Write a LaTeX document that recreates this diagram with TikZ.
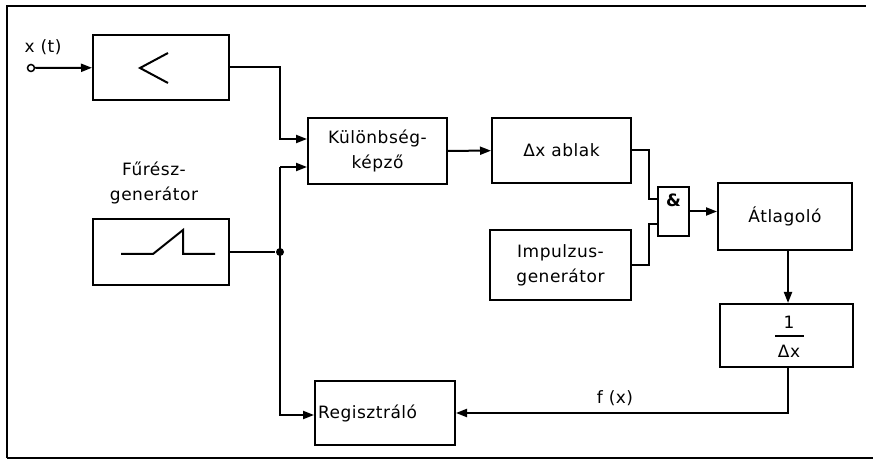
\documentclass[tikz,border=0pt]{standalone}
\usepackage{fontspec}
\setmainfont[LetterSpace=3]{DejaVu Sans}
\usetikzlibrary{arrows.meta, positioning, calc}

\begin{document}
\begin{tikzpicture}[x=1pt, y=-1pt, line width=2pt,
    >={Triangle[length=11pt, width=8pt]},
    every node/.style={font=\fontsize{17}{25}\selectfont},
    block/.style={draw, rectangle, inner sep=0pt, align=center},
    junction/.style={circle, fill, inner sep=0pt, minimum size=8pt}]
    \useasboundingbox (0,0) rectangle (873,470);
    % frame
    \draw[line width=1.3pt] (7,458) -- (7,6) -- (866,6);
    \draw[line width=1.3pt] (7,458) -- (873,458);

    % blocks
    \node[block, minimum width=136pt, minimum height=65pt] (amp) at (161,67.5) {};
    \node[block, minimum width=136pt, minimum height=66pt] (saw) at (161,252) {};
    \node[block, minimum width=139pt, minimum height=66pt] (kul) at (377.5,151) {Különbség-\\képző};
    \node[block, minimum width=139pt, minimum height=65pt] (dx) at (561.5,150.5) {Δx ablak};
    \node[block, minimum width=141pt, minimum height=70pt] (imp) at (560.5,265) {Impulzus-\\generátor};
    \node[block, minimum width=31pt, minimum height=49pt] (gate) at (673.5,211.5) {};
    \node[block, minimum width=134pt, minimum height=67pt] (atl) at (785,216.5) {Átlagoló};
    \node[block, minimum width=133pt, minimum height=63pt] (inv) at (786.5,335.5) {};
    \node[block, text width=134pt, inner xsep=3pt, minimum height=64pt, align=left] (reg) at (385,413) {Regisztráló};

    % labels
    \node[circle, draw, line width=1.5pt, minimum size=7pt, inner sep=0pt, fill=white] (in) at (31,68) {};
    \node (xt) at (43,47) {x (t)};
    \node[align=center] (fur) at (154,183) {Fűrész-\\generátor};
    \node[font=\fontsize{17}{20}\selectfont\bfseries] (and) at (673.5,200) {\&};
    \node (one) at (789,322) {1};
    \node (delx) at (789,351) {Δx};
    \node (fx) at (615,398) {f (x)};
    \node[junction] (dot) at (280,252) {};

    % symbols
    \draw (168,53) -- (140,68) -- (168,83);
    \draw (121,254) -- (153,254) -- (183,230) -- (183,254) -- (215,254);
    \draw (775,336) -- (804,336);

    % connections
    \coordinate (k1) at ([yshift=12pt]kul.west);
    \coordinate (k2) at ([yshift=-16pt]kul.west);
    \coordinate (g1) at ([yshift=12pt]gate.west);
    \coordinate (g2) at ([yshift=-13pt]gate.west);
    \draw[->] (in) -- (amp);
    \draw[->] (amp.east) -| (k1 -| dot) -- (k1);
    \draw[->] (k2 -| dot) -- (k2);
    \draw[->] (k2 -| dot) |- ([yshift=-2pt]reg.west);
    \draw (saw.east) -- (dot);
    \draw[->] (kul) -- (dx);
    \draw (dx.east) -- ++(17,0) |- (g1);
    \draw (imp.east) -- ++(17,0) |- (g2);
    \draw[->] (gate.east) -- (gate.east -| atl.west);
    \draw[->] ([xshift=3pt]atl.south) -- ([xshift=3pt]atl.south |- inv.north);
    \draw[->] ([xshift=1.5pt]inv.south) |- (reg.east);
\end{tikzpicture}
\end{document}
